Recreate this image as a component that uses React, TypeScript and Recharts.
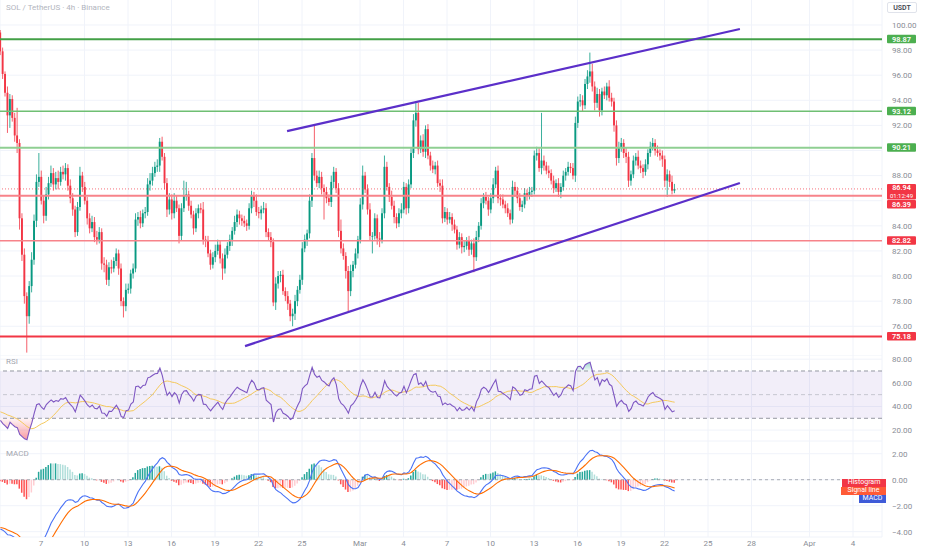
import React from 'react';
import {
  Area,
  Bar,
  CartesianGrid,
  Cell,
  ComposedChart,
  Line,
  ReferenceArea,
  ReferenceLine,
  XAxis,
  YAxis,
} from 'recharts';

// SOL / USDT 4h candles (Feb 4 -> Mar 22)
const firstOpen = 99.4;
const closes = [
  97.9, 96.1, 94.6, 92.8, 94.1, 92.6, 91.2, 90.6, 84.6, 81.7,
  78.4, 76.8, 79.2, 81.3, 84.4, 87.5, 87.9, 86.0, 84.8, 86.5,
  87.4, 88.2, 87.3, 87.8, 87.5, 88.3, 88.1, 88.6, 87.2, 86.2,
  85.3, 83.5, 85.5, 88.0, 87.1, 86.0, 84.6, 83.8, 84.3, 83.1,
  82.9, 83.5, 81.0, 80.9, 79.7, 80.7, 80.6, 81.2, 81.8, 80.6,
  78.0, 77.6, 78.9, 79.0, 80.2, 80.6, 84.5, 84.7, 84.2, 85.0,
  85.1, 87.3, 87.6, 88.2, 88.7, 88.8, 90.7, 89.5, 87.4, 85.3,
  86.1, 85.0, 86.0, 85.4, 83.2, 85.4, 86.4, 86.5, 85.6, 84.9,
  83.8, 85.0, 85.4, 85.3, 82.9, 82.8, 81.8, 80.9, 81.5, 82.0,
  82.5, 81.4, 80.6, 81.7, 82.4, 82.9, 83.6, 84.3, 84.9, 84.6,
  84.4, 84.2, 84.0, 85.4, 86.4, 86.0, 85.1, 85.0, 85.3, 85.4,
  83.5, 83.1, 82.7, 77.9, 79.4, 80.0, 80.1, 78.8, 78.4, 77.8,
  76.8, 77.0, 78.0, 78.9, 79.7, 82.2, 82.9, 83.4, 86.0, 89.4,
  88.0, 87.4, 87.9, 87.0, 86.7, 86.2, 85.9, 87.5, 88.3, 87.0,
  83.6, 82.2, 81.6, 80.4, 78.8, 80.4, 80.9, 81.8, 82.9, 85.7,
  88.0, 86.9, 85.3, 83.2, 83.2, 84.6, 83.0, 82.9, 85.0, 88.7,
  87.1, 86.3, 85.6, 84.7, 84.2, 85.0, 85.3, 87.1, 85.4, 87.3,
  89.8, 92.4, 93.0, 90.1, 90.8, 89.9, 91.7, 89.6, 88.8, 88.5,
  88.8, 87.4, 87.2, 84.6, 85.1, 84.5, 84.7, 84.1, 83.7, 82.5,
  83.1, 82.3, 82.4, 82.8, 82.1, 82.6, 81.5, 83.1, 84.0, 85.8,
  86.3, 86.0, 85.3, 86.2, 87.3, 88.4, 86.2, 86.1, 85.7, 85.4,
  85.0, 84.5, 87.1, 86.8, 86.2, 85.5, 85.7, 86.6, 86.4, 86.7,
  86.8, 89.6, 89.8, 88.6, 89.2, 88.8, 88.4, 88.2, 87.6, 87.0,
  87.4, 86.7, 87.1, 88.0, 88.3, 88.7, 88.6, 88.0, 92.2, 93.9,
  94.0, 93.6, 95.3, 95.9, 96.3, 95.1, 93.8, 94.5, 93.2, 94.7,
  94.4, 95.1, 94.2, 93.9, 92.0, 89.4, 90.2, 90.6, 89.8, 89.5,
  87.6, 88.1, 89.2, 89.5, 88.8, 88.6, 88.3, 88.9, 89.8, 90.3,
  90.6, 90.0, 89.8, 89.6, 89.3, 87.6, 88.1, 87.5, 86.8, 86.94,
];
// how far each wick reaches past the body
const wickUp = [
  0.2, 0.3, 0.2, 0.5, 0.4, 0.3, 0.4, 2.2, 0.3, 0.4,
  0.5, 0.3, 0.4, 0.6, 0.5, 0.6, 1.9, 0.5, 0.4, 0.6,
  0.5, 0.6, 0.4, 0.5, 0.6, 0.4, 0.5, 0.4, 0.3, 0.5,
  0.4, 0.3, 0.4, 0.7, 0.3, 0.4, 0.3, 0.4, 0.5, 0.4,
  0.5, 0.4, 0.3, 0.5, 0.4, 0.4, 0.6, 0.3, 0.4, 0.3,
  0.4, 0.3, 0.5, 0.4, 0.3, 0.4, 0.5, 0.4, 0.5, 0.3,
  0.4, 0.5, 0.6, 0.5, 0.4, 0.5, 0.3, 0.4, 0.3, 0.4,
  0.5, 0.4, 0.6, 0.4, 0.3, 0.4, 1.2, 1.0, 0.3, 0.4,
  0.3, 0.4, 0.3, 0.4, 0.6, 0.3, 0.4, 0.3, 0.4, 0.5,
  0.4, 0.3, 0.4, 0.5, 0.3, 0.4, 0.3, 0.5, 0.4, 0.3,
  0.3, 0.4, 0.3, 0.4, 0.4, 0.3, 0.5, 0.4, 0.3, 0.5,
  0.4, 0.3, 0.4, 0.3, 0.5, 0.4, 0.3, 0.4, 0.3, 0.4,
  0.3, 0.4, 0.5, 0.3, 0.4, 0.5, 0.4, 0.3, 0.5, 0.4,
  2.6, 0.4, 0.5, 0.4, 0.3, 0.4, 0.3, 0.5, 0.4, 0.3,
  0.4, 0.9, 0.4, 0.3, 0.4, 0.5, 0.3, 0.4, 0.3, 0.5,
  0.8, 0.3, 0.4, 0.5, 0.3, 0.4, 0.3, 0.5, 0.4, 0.9,
  0.4, 0.3, 0.5, 0.4, 0.3, 0.4, 0.5, 0.4, 0.3, 0.4,
  0.4, 0.5, 0.9, 0.8, 0.4, 0.5, 0.3, 0.4, 0.3, 0.4,
  0.3, 0.4, 0.3, 0.5, 0.4, 0.3, 0.4, 0.3, 0.4, 0.3,
  0.4, 0.3, 0.4, 0.3, 0.4, 0.3, 0.4, 0.5, 0.3, 0.4,
  0.3, 0.4, 0.3, 0.4, 0.5, 0.3, 0.4, 0.3, 0.4, 0.3,
  0.4, 0.3, 0.5, 0.4, 0.3, 0.4, 0.3, 0.4, 0.3, 0.4,
  0.3, 0.4, 0.5, 0.4, 3.8, 0.4, 0.3, 0.4, 0.3, 0.4,
  0.3, 0.4, 0.3, 0.4, 0.3, 0.4, 0.3, 0.4, 0.5, 0.4,
  0.5, 0.4, 0.4, 0.5, 1.5, 0.6, 0.4, 0.5, 0.4, 0.3,
  0.4, 0.3, 0.5, 0.4, 0.3, 0.4, 0.5, 0.4, 0.3, 0.4,
  0.4, 0.3, 0.4, 0.3, 0.5, 0.4, 0.3, 0.4, 0.3, 0.4,
  0.4, 0.3, 0.4, 0.3, 0.4, 0.3, 0.4, 0.3, 0.5, 0.4,
];
const wickDown = [
  0.3, 0.4, 0.3, 1.4, 1.0, 0.3, 0.5, 0.8, 0.9, 0.5,
  0.6, 2.9, 0.6, 0.5, 0.4, 0.5, 0.4, 0.3, 0.6, 0.4,
  0.4, 0.3, 0.5, 0.4, 0.6, 0.3, 0.4, 0.5, 0.4, 0.4,
  0.5, 0.4, 0.3, 0.3, 0.4, 0.3, 0.5, 0.4, 0.3, 0.4,
  0.4, 0.3, 0.5, 0.6, 0.4, 0.5, 0.4, 0.3, 0.4, 0.5,
  0.4, 0.9, 0.4, 0.3, 0.4, 0.4, 0.3, 0.5, 0.4, 0.3,
  0.4, 0.3, 0.5, 0.4, 0.3, 0.4, 0.5, 0.3, 0.5, 0.6,
  0.4, 0.5, 0.4, 0.3, 0.6, 0.4, 0.3, 0.4, 0.4, 0.3,
  0.5, 0.3, 0.4, 0.3, 0.4, 0.5, 0.3, 0.4, 0.3, 0.4,
  0.3, 0.4, 0.9, 0.4, 0.3, 0.4, 0.5, 0.3, 0.4, 0.5,
  0.4, 0.3, 0.4, 0.3, 0.4, 0.5, 0.3, 0.4, 0.5, 0.3,
  0.4, 0.3, 0.4, 0.3, 0.6, 0.4, 0.5, 0.3, 0.4, 0.5,
  0.4, 0.8, 0.5, 0.4, 0.3, 0.4, 0.3, 0.5, 0.4, 0.5,
  0.4, 0.3, 0.4, 0.5, 2.2, 0.4, 0.3, 0.4, 0.5, 0.4,
  0.5, 0.4, 0.3, 0.6, 1.6, 0.4, 0.5, 0.3, 0.4, 0.3,
  0.4, 0.3, 0.4, 0.4, 1.4, 0.3, 0.5, 0.6, 0.3, 0.4,
  0.3, 0.4, 0.3, 0.5, 0.4, 0.3, 0.4, 0.3, 0.5, 0.4,
  0.3, 0.4, 0.5, 0.4, 0.3, 0.4, 0.5, 0.3, 0.4, 0.3,
  0.4, 0.3, 0.5, 0.4, 0.3, 0.4, 0.3, 0.5, 0.3, 0.4,
  0.3, 0.5, 0.4, 0.3, 0.5, 0.4, 1.2, 0.3, 0.4, 0.3,
  0.4, 0.3, 0.5, 0.3, 0.4, 0.3, 0.4, 0.5, 0.3, 0.4,
  0.3, 0.4, 0.3, 0.5, 0.4, 0.3, 0.4, 0.3, 0.4, 0.3,
  0.4, 0.3, 0.4, 0.3, 0.5, 0.4, 0.3, 0.4, 0.3, 0.4,
  0.3, 0.4, 0.5, 0.3, 0.4, 0.3, 0.4, 0.3, 0.5, 0.4,
  0.4, 0.5, 0.3, 0.4, 0.5, 0.4, 0.6, 0.4, 0.5, 0.4,
  0.3, 0.4, 0.3, 0.4, 0.5, 0.6, 0.4, 0.3, 0.4, 0.5,
  0.5, 0.4, 0.3, 0.4, 0.3, 0.4, 0.5, 0.3, 0.4, 0.3,
  0.3, 0.4, 0.3, 0.4, 0.6, 0.5, 1.3, 0.4, 0.3, 0.2,
];

// time axis in days from Feb 7 00:00, one candle per 4h
const firstDay = -2.8;
const xDomain: [number, number] = [-2.828, 58.0];
const dateTicks = [0, 3, 6, 9, 12, 15, 18, 22, 25, 28, 31, 34, 37, 40, 43, 46, 49, 53, 56];
const dateLabels = ['7', '10', '13', '16', '19', '22', '25', 'Mar', '4', '7', '10', '13', '16', '19', '22', '25', '28', 'Apr', '4'];

const priceGrid = [74, 76, 78, 80, 82, 84, 86, 88, 90, 92, 94, 96, 98, 100];
// 86 and 90 sit under the level tags, so the scale leaves them out
const priceTicks = [74, 76, 78, 80, 82, 84, 88, 92, 94, 96, 98, 100];
const rsiTicks = [20, 40, 60, 80];
const macdTicks = [-4, -2, 0, 2];

// horizontal levels drawn on the chart
const supportLevels = [86.39, 82.82, 75.18];
const resistLevels = [98.87, 93.12, 90.21];
const lastPrice = 86.94;
const countdown = '01:12:49';
// channel lines: [day, price] end points
const upperTrend = [[16.97, 91.55], [48.2, 99.68]];
const lowerTrend = [[14.07, 74.42], [48.2, 87.41]];

// indicator state carried in from before the first visible candle
const rsiSeed = { avgGain: 0.4, avgLoss: 0.9, ma: 36 };
const macdSeed = { fast: 101.3, slow: 105.1, signal: -3.65 };

const UP = '#089981';
const DOWN = '#f23645';
const FONT = 'Roboto, "Noto Sans", sans-serif';
const AXIS_TEXT = '#8a8d96';

const rows = (() => {
  let ag = rsiSeed.avgGain;
  let al = rsiSeed.avgLoss;
  let ef = macdSeed.fast;
  let es = macdSeed.slow;
  let sig = macdSeed.signal;
  const rsiVals: number[] = [];
  const out: any[] = [];
  let prevHist = 0;
  closes.forEach((c, i) => {
    const o = i === 0 ? firstOpen : closes[i - 1];
    const h = Math.max(o, c) + wickUp[i];
    const l = Math.min(o, c) - wickDown[i];
    const ch = c - o;
    ag = (ag * 13 + Math.max(ch, 0)) / 14;
    al = (al * 13 + Math.max(-ch, 0)) / 14;
    const rsi = 100 - 100 / (1 + ag / al);
    rsiVals.push(rsi);
    const win = rsiVals.slice(Math.max(0, i - 13));
    const rsiMa = (win.reduce((a, b) => a + b, 0) + (14 - win.length) * rsiSeed.ma) / 14;
    ef = ef + (2 / 13) * (c - ef);
    es = es + (2 / 27) * (c - es);
    const macd = ef - es;
    sig = sig + 0.2 * (macd - sig);
    const hist = macd - sig;
    const histColor = hist >= 0
      ? (hist > prevHist ? '#26a69a' : '#b2dfdb')
      : (hist < prevHist ? '#ff5252' : '#ffcdd2');
    prevHist = hist;
    out.push({
      t: firstDay + i / 6,
      o, h, l, c,
      range: [l, h],
      rsi,
      rsiMa,
      rsiLow: [Math.min(rsi, 30), 30],
      rsiHigh: [70, Math.max(rsi, 70)],
      macd,
      signal: sig,
      hist,
      histColor,
    });
  });
  return out;
})();

const fmtDate = (v: number) => {
  const k = dateTicks.indexOf(v);
  return k >= 0 ? dateLabels[k] : '';
};
const fmtNum = (v: number) => (v < 0 ? '\u2212' : '') + Math.abs(v).toFixed(2);

const Candle = (props: any) => {
  const { x, y, width, height, payload } = props;
  if (x == null || payload == null) return null;
  const { o, h, l, c } = payload;
  const top = Math.min(y, y + height);
  const span = Math.abs(height);
  const k = h === l ? 0 : span / (h - l);
  const cx = x + width / 2;
  const bodyTop = top + (h - Math.max(o, c)) * k;
  const bodyH = Math.max(Math.abs(o - c) * k, 0.8);
  const color = c >= o ? UP : DOWN;
  return (
    <g>
      <line x1={cx} x2={cx} y1={top} y2={top + span} stroke={color} strokeWidth={0.8} />
      <rect x={cx - 0.95} y={bodyTop} width={1.9} height={bodyH} fill={color} />
    </g>
  );
};

const PriceTag = (props: any) => {
  const { viewBox, text, sub, fill, shift = 0 } = props;
  if (!viewBox) return null;
  const x = viewBox.x + viewBox.width + 5;
  const y = viewBox.y + shift;
  if (sub) {
    return (
      <g>
        <rect x={x} y={y - 5} width={29} height={15.5} rx={1} fill={fill} />
        <text x={x + 14.5} y={y + 1.5} textAnchor="middle" fontSize={7.2} fontWeight={600} fill="#fff" fontFamily={FONT}>
          {text}
        </text>
        <text x={x + 14.5} y={y + 9} textAnchor="middle" fontSize={6} fill="#fff" fontFamily={FONT}>
          {sub}
        </text>
      </g>
    );
  }
  return (
    <g>
      <rect x={x} y={y - 4.5} width={29} height={8.5} rx={1} fill={fill} />
      <text x={x + 14.5} y={y + 2.4} textAnchor="middle" fontSize={7.4} fontWeight={600} fill="#fff" fontFamily={FONT}>
        {text}
      </text>
    </g>
  );
};

const levelStyle: Record<string, { stroke: string; width: number }> = {
  '98.87': { stroke: '#43a047', width: 2 },
  '93.12': { stroke: '#6fbf73', width: 1.5 },
  '90.21': { stroke: '#8fcf92', width: 2 },
  '86.39': { stroke: '#f7838a', width: 2 },
  '82.82': { stroke: '#f7838a', width: 1.5 },
  '75.18': { stroke: '#f23645', width: 2 },
};

const axisTick = { fontSize: 8, fill: AXIS_TEXT, fontFamily: FONT };

const paneLabel: React.CSSProperties = {
  position: 'absolute',
  left: 6,
  fontSize: 8,
  color: '#a3a6af',
  fontFamily: FONT,
  lineHeight: '9px',
};

const App = () => {
  const margin = { top: 0, right: 0, bottom: 0, left: 0 };
  return (
    <div style={{ position: 'absolute', left: 0, top: 0, width: 932, height: 550, background: '#fff', overflow: 'hidden', fontFamily: FONT }}>
      <div style={{ position: 'absolute', left: 0, top: 0 }}>
        <ComposedChart width={932} height={355} data={rows} margin={margin}>
          <CartesianGrid stroke="#f0f3fa" horizontalValues={priceGrid} />
          <XAxis type="number" dataKey="t" domain={xDomain} allowDataOverflow ticks={dateTicks} hide />
          <YAxis
            orientation="right"
            width={50}
            domain={[73.71, 101.99]}
            allowDataOverflow
            ticks={priceTicks}
            tickFormatter={fmtNum}
            axisLine={false}
            tickLine={false}
            tickMargin={4}
            tick={{ ...axisTick, textAnchor: 'start' }}
          />
          {resistLevels.map((p) => (
            <ReferenceLine
              key={p}
              y={p}
              stroke={levelStyle[p.toFixed(2)].stroke}
              strokeWidth={levelStyle[p.toFixed(2)].width}
              label={<PriceTag text={p.toFixed(2)} fill="#4caf50" />}
            />
          ))}
          {supportLevels.map((p) => (
            <ReferenceLine
              key={p}
              y={p}
              stroke={levelStyle[p.toFixed(2)].stroke}
              strokeWidth={levelStyle[p.toFixed(2)].width}
              label={<PriceTag text={p.toFixed(2)} fill="#f23645" shift={p === 86.39 ? 8.6 : 0} />}
            />
          ))}
          <ReferenceLine
            y={lastPrice}
            stroke="#f23645"
            strokeOpacity={0.7}
            strokeDasharray="1 2"
            label={<PriceTag text={lastPrice.toFixed(2)} sub={countdown} fill="#f23645" shift={0} />}
          />
          <Bar dataKey="range" barSize={2} shape={Candle} isAnimationActive={false} />
          <ReferenceLine
            segment={upperTrend.map(([x, y]) => ({ x, y }))}
            stroke="#5b2fc9"
            strokeWidth={2.2}
            ifOverflow="visible"
          />
          <ReferenceLine
            segment={lowerTrend.map(([x, y]) => ({ x, y }))}
            stroke="#5b2fc9"
            strokeWidth={2.2}
            ifOverflow="visible"
          />
        </ComposedChart>
      </div>

      <div style={{ position: 'absolute', left: 0, top: 355 }}>
        <ComposedChart width={932} height={86} data={rows} margin={margin}>
          <defs>
            <linearGradient id="osFill" x1="0" y1="0" x2="0" y2="1">
              <stop offset="0%" stopColor="#f23645" stopOpacity={0.05} />
              <stop offset="100%" stopColor="#f23645" stopOpacity={0.5} />
            </linearGradient>
            <linearGradient id="obFill" x1="0" y1="1" x2="0" y2="0">
              <stop offset="0%" stopColor="#089981" stopOpacity={0.05} />
              <stop offset="100%" stopColor="#089981" stopOpacity={0.4} />
            </linearGradient>
          </defs>
          <CartesianGrid stroke="#f0f3fa" />
          <XAxis type="number" dataKey="t" domain={xDomain} allowDataOverflow ticks={dateTicks} hide />
          <YAxis
            orientation="right"
            width={50}
            domain={[10.8, 83.53]}
            allowDataOverflow
            ticks={rsiTicks}
            tickFormatter={fmtNum}
            axisLine={false}
            tickLine={false}
            tickMargin={4}
            tick={{ ...axisTick, textAnchor: 'start' }}
          />
          <ReferenceArea y1={30} y2={70} fill="#7e57c2" fillOpacity={0.1} stroke="none" />
          <ReferenceLine y={70} stroke="#9598a1" strokeDasharray="4 3" />
          <ReferenceLine y={50} stroke="#b2b5be" strokeDasharray="4 3" strokeOpacity={0.7} />
          <ReferenceLine y={30} stroke="#9598a1" strokeDasharray="4 3" />
          <Area dataKey="rsiLow" type="linear" stroke="none" fill="url(#osFill)" fillOpacity={1} isAnimationActive={false} />
          <Area dataKey="rsiHigh" type="linear" stroke="none" fill="url(#obFill)" fillOpacity={1} isAnimationActive={false} />
          <Line dataKey="rsiMa" type="linear" stroke="#f5c95c" strokeWidth={1} dot={false} isAnimationActive={false} />
          <Line dataKey="rsi" type="linear" stroke="#7e57c2" strokeWidth={1.1} dot={false} isAnimationActive={false} />
        </ComposedChart>
      </div>

      <div style={{ position: 'absolute', left: 0, top: 441 }}>
        <ComposedChart width={932} height={109} data={rows} margin={margin}>
          <CartesianGrid stroke="#f0f3fa" />
          <XAxis
            type="number"
            dataKey="t"
            domain={xDomain}
            allowDataOverflow
            ticks={dateTicks}
            tickFormatter={fmtDate}
            axisLine={false}
            tickLine={false}
            height={13}
            tickSize={0}
            tickMargin={3}
            tick={axisTick}
          />
          <YAxis
            orientation="right"
            width={50}
            domain={[-4.41, 2.98]}
            allowDataOverflow
            ticks={macdTicks}
            tickFormatter={fmtNum}
            axisLine={false}
            tickLine={false}
            tickMargin={4}
            tick={{ ...axisTick, textAnchor: 'start' }}
          />
          <ReferenceLine y={0} stroke="#9598a1" strokeDasharray="3 3" strokeOpacity={0.8} />
          <Bar dataKey="hist" barSize={1.5} isAnimationActive={false}>
            {rows.map((r, i) => (
              <Cell key={i} fill={r.histColor} />
            ))}
          </Bar>
          <Line dataKey="macd" type="linear" stroke="#4a72f5" strokeWidth={1.1} dot={false} isAnimationActive={false} />
          <Line dataKey="signal" type="linear" stroke="#ff6d00" strokeWidth={1.1} dot={false} isAnimationActive={false} />
        </ComposedChart>
      </div>

      <div style={{ ...paneLabel, top: 3, fontSize: 8, color: '#b2b5be' }}>SOL / TetherUS · 4h · Binance</div>
      <div
        style={{
          position: 'absolute',
          left: 887,
          top: 2,
          width: 30,
          height: 11,
          border: '1px solid #e0e3eb',
          borderRadius: 2,
          fontSize: 7,
          fontWeight: 600,
          color: '#434651',
          textAlign: 'center',
          lineHeight: '11px',
          boxSizing: 'border-box',
        }}
      >
        USDT
      </div>
      <div style={{ ...paneLabel, top: 357 }}>RSI</div>
      <div style={{ ...paneLabel, top: 449 }}>MACD</div>

      {[
        { text: 'Histogram', bg: '#f23645', left: 842, top: 479 },
        { text: 'Signal line', bg: '#ff5a36', left: 841, top: 487 },
        { text: 'MACD', bg: '#3f5bd8', left: 859, top: 495 },
      ].map((t) => (
        <div
          key={t.text}
          style={{
            position: 'absolute',
            left: t.left,
            top: t.top,
            width: 886 - t.left,
            height: 7.5,
            background: t.bg,
            color: '#fff',
            fontSize: 7,
            lineHeight: '7.5px',
            textAlign: 'center',
            fontFamily: FONT,
          }}
        >
          {t.text}
        </div>
      ))}
    </div>
  );
};

export default App;
